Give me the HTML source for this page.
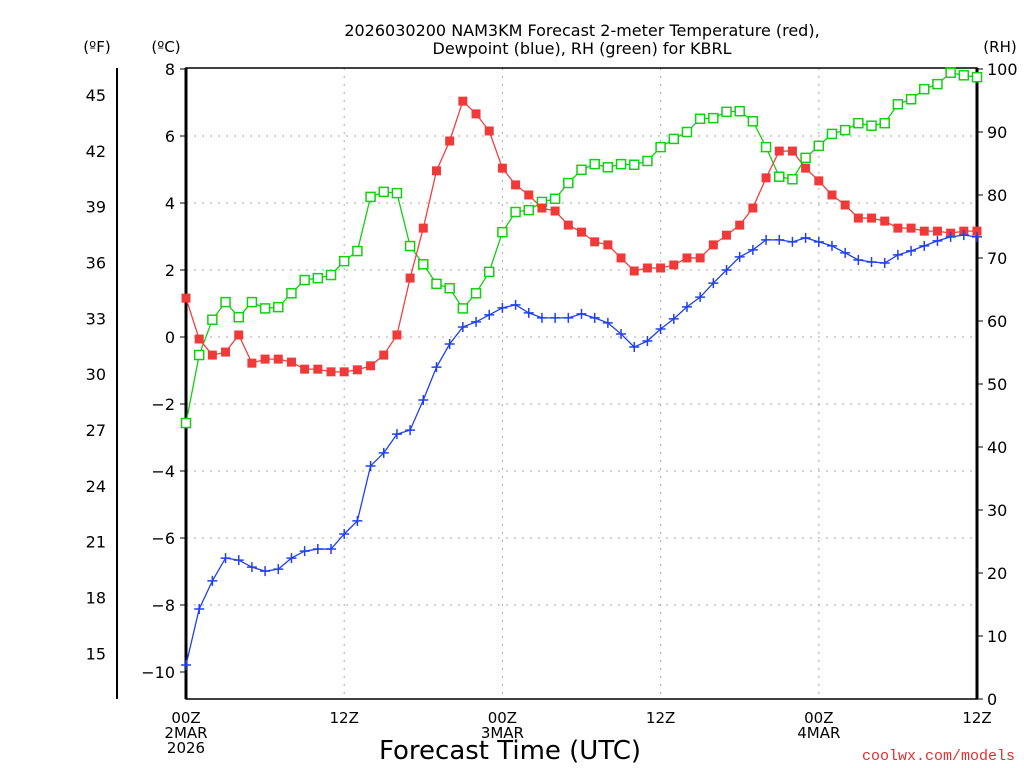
<!DOCTYPE html>
<html><head><meta charset="utf-8"><style>
html,body{margin:0;padding:0;background:#fff;}
svg{display:block;font-family:"DejaVu Sans","Liberation Sans",sans-serif;}
</style></head><body>
<svg id="chart" width="1024" height="768" viewBox="0 0 1024 768">
<text x="582" y="36" font-size="16" text-anchor="middle">2026030200 NAM3KM Forecast 2-meter Temperature (red),</text>
<text x="582" y="54" font-size="16" text-anchor="middle">Dewpoint (blue), RH (green) for KBRL</text>
<text x="97" y="52" font-size="15" text-anchor="middle">(ºF)</text>
<text x="166" y="52" font-size="15" text-anchor="middle">(ºC)</text>
<text x="1000" y="52" font-size="15" text-anchor="middle">(RH)</text>
<text x="510" y="759" font-size="26" text-anchor="middle">Forecast Time (UTC)</text>
<text x="1015" y="760" font-size="15" fill="#e03030" text-anchor="end" font-family="Liberation Mono, monospace">coolwx.com/models</text>
<g id="grid"></g><g id="axes"></g><g id="series"></g>
</svg>
<script>
const hours = [];
for (let i = 0; i <= 60; i++) hours.push(i);
const tempC = [1.16,-0.06,-0.54,-0.45,0.06,-0.78,-0.66,-0.66,-0.75,-0.96,-0.96,-1.04,-1.04,-0.98,-0.86,-0.54,0.06,1.76,3.25,4.96,5.85,7.04,6.66,6.15,5.04,4.54,4.24,3.85,3.76,3.34,3.13,2.84,2.75,2.36,1.97,2.06,2.06,2.15,2.36,2.36,2.75,3.04,3.34,3.85,4.75,5.55,5.55,5.04,4.66,4.24,3.94,3.55,3.55,3.46,3.25,3.25,3.16,3.16,3.1,3.16,3.16];
const dewC = [-9.79,-8.12,-7.28,-6.6,-6.66,-6.87,-6.99,-6.93,-6.6,-6.39,-6.33,-6.33,-5.88,-5.49,-3.85,-3.46,-2.9,-2.78,-1.88,-0.9,-0.21,0.3,0.45,0.66,0.87,0.96,0.72,0.57,0.57,0.57,0.69,0.57,0.42,0.09,-0.3,-0.12,0.24,0.54,0.9,1.19,1.61,2.0,2.39,2.6,2.9,2.9,2.84,2.96,2.84,2.72,2.51,2.3,2.24,2.21,2.45,2.57,2.72,2.87,2.99,3.04,2.99];
const rh = [43.8,54.6,60.2,63,60.6,63,62,62.2,64.4,66.5,66.8,67.3,69.5,71.1,79.7,80.5,80.3,71.9,69,65.9,65.2,62,64.4,67.8,74.1,77.3,77.6,78.9,79.4,81.9,84,84.9,84.4,84.9,84.8,85.4,87.6,88.9,90,92.1,92.2,93.2,93.3,91.7,87.6,82.9,82.5,85.9,87.8,89.7,90.3,91.4,91,91.4,94.4,95.2,96.8,97.6,99.4,99,98.7];
const cTicks = [-10,-8,-6,-4,-2,0,2,4,6,8];
const fTicks = [15,18,21,24,27,30,33,36,39,42,45];
const rhTicks = [0,10,20,30,40,50,60,70,80,90,100];
const xTickHours = [0,12,24,36,48,60];
const xTickLabels = [["00Z","2MAR","2026"],["12Z"],["00Z","3MAR"],["12Z"],["00Z","4MAR"],["12Z"]];

const L=186,R=977,T=68,B=699;
const xs = h => L + (R-L)*h/60;
const yc = c => 69 + (8-c)*33.5;
const yr = v => B - (B-69)*v/100;
const yf = f => yc((f-32)*5/9);
const NS="http://www.w3.org/2000/svg";
function mk(parent,tag,attrs){const e=document.createElementNS(NS,tag);for(const k in attrs)e.setAttribute(k,attrs[k]);parent.appendChild(e);return e;}
const grid=document.getElementById('grid'), axes=document.getElementById('axes'), ser=document.getElementById('series');

cTicks.forEach(c=>{
  if(c>-10 && c<8){const g=mk(grid,'line',{x1:L,x2:R,y1:yc(c),y2:yc(c),stroke:'#aaa','stroke-dasharray':'2,6'});
  
  }
  const t=mk(axes,'text',{x:175,y:yc(c)+6,'font-size':16,'text-anchor':'end'});t.textContent=c<0?'\u2212'+(-c):c;
  
  
  mk(axes,'line',{x1:L-6,x2:L,y1:yc(c),y2:yc(c),stroke:'#000'});
});
xTickHours.forEach((h,i)=>{
  if(h>0&&h<60){const g=mk(grid,'line',{x1:xs(h),x2:xs(h),y1:T,y2:B,stroke:'#aaa','stroke-dasharray':'2,6'});
  
  }
  xTickLabels[i].forEach((s,j)=>{const t=mk(axes,'text',{x:xs(h),y:723+j*15,'font-size':15,'text-anchor':'middle'});t.textContent=s;
  
  });
});
fTicks.forEach(f=>{
  const t=mk(axes,'text',{x:106,y:yf(f)+6,'font-size':16,'text-anchor':'end'});t.textContent=f;
  
  
});
rhTicks.forEach(v=>{
  const t=mk(axes,'text',{x:987,y:yr(v)+6,'font-size':16,'text-anchor':'start'});t.textContent=v;
  
  
  mk(axes,'line',{x1:R,x2:R+6,y1:yr(v),y2:yr(v),stroke:'#000'});
});
mk(axes,'rect',{x:L,y:T,width:R-L,height:B-T,fill:'none',stroke:'#000','stroke-width':1.5});
mk(axes,'line',{x1:L,x2:L,y1:T,y2:B,stroke:'#000','stroke-width':3});
mk(axes,'line',{x1:R,x2:R,y1:T,y2:B,stroke:'#000','stroke-width':3});
mk(axes,'line',{x1:117,x2:117,y1:T,y2:B,stroke:'#000','stroke-width':2});

function line(vals,yfn,color,name){
  const p=mk(ser,'polyline',{points:vals.map((v,i)=>xs(hours[i])+','+yfn(v)).join(' '),fill:'none',stroke:color,'stroke-width':1.3});
  
  
}
line(rh,yr,'#10d010','rh-line');
line(tempC,yc,'#f04040','temperature-line');
line(dewC,yc,'#2040f0','dewpoint-line');
rh.forEach((v,i)=>{const m=mk(ser,'rect',{x:xs(hours[i])-4.5,y:yr(v)-4.5,width:9,height:9,fill:'#fff',stroke:'#10d010','stroke-width':1.5});
  
  });
tempC.forEach((v,i)=>{const m=mk(ser,'rect',{x:xs(hours[i])-4.5,y:yc(v)-4.5,width:9,height:9,fill:'#f03a3a'});
  
  });
dewC.forEach((v,i)=>{const x=xs(hours[i]),y=yc(v);const m=mk(ser,'path',{d:`M${x-5},${y}H${x+5}M${x},${y-5}V${y+5}`,stroke:'#2040f0','stroke-width':1.5});
  
  });
</script>
</body></html>
